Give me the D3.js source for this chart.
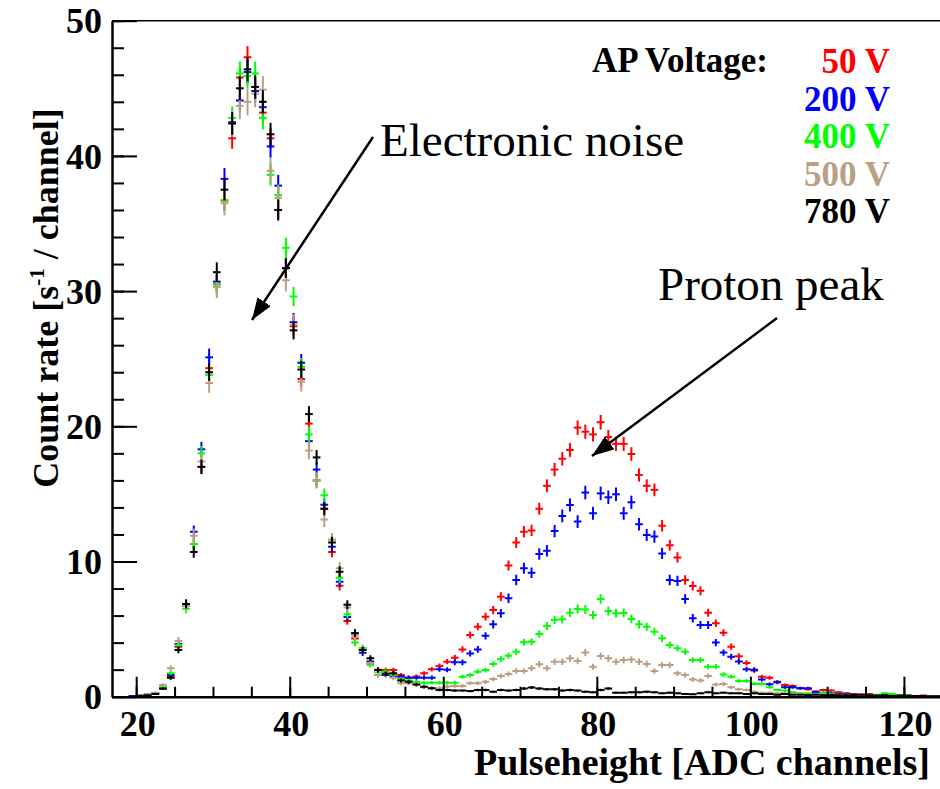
<!doctype html>
<html lang="en">
<head>
  <meta charset="utf-8">
  <title>Pulseheight spectra</title>
  <style>
    body { margin: 0; background: #fff; }
    svg { display: block; background: #fff; }
    .tick text { font-family: "Liberation Serif", "Times New Roman", serif; font-weight: bold; font-size: 36px; fill: #000; }
    .bold { font-family: "Liberation Serif", "Times New Roman", serif; font-weight: bold; }
    .note { font-family: "Liberation Serif", "Times New Roman", serif; font-size: 47px; }
  </style>
</head>
<body>
  <div id="chart"></div>
  <script src="https://cdnjs.cloudflare.com/ajax/libs/d3/7.8.5/d3.min.js"></script>
  <script>
// channels 17 .. 124, one value per ADC channel (bin width 1)
var channels = d3.range(17, 125);

var rate50 = [
  0, 0, 0, 0.05, 0.15, 0.25, 0.62, 1.5, 3.7, 6.7,
  11.3, 17.0, 24.3, 30.5, 36.7, 41.3, 45.8, 47.3, 45.1, 43.2,
  41.3, 36.0, 31.7, 27.4, 23.5, 20.2, 16.0, 13.9, 10.7, 8.2,
  5.6, 4.3, 3.5, 2.5, 2.0, 1.97, 1.97, 1.6, 1.41, 1.5,
  1.73, 2.03, 2.27, 2.59, 2.89, 3.5, 4.56, 5.18, 5.92, 6.41,
  7.4, 9.7, 11.4, 12.2, 12.3, 13.9, 15.6, 16.8, 17.6, 18.25,
  19.9, 19.6, 19.4, 20.3, 19.2, 18.7, 18.7, 17.95, 16.4, 15.6,
  15.3, 12.65, 11.2, 10.3, 8.63, 8.19, 7.84, 6.21, 5.43, 4.73,
  3.7, 3.0, 2.5, 1.93, 1.48, 1.4, 1.1, 0.86, 0.79, 0.62,
  0.55, 0.37, 0.5, 0.45, 0.32, 0.25, 0.2, 0.15, 0.2, 0.1,
  0.12, 0.1, 0.08, 0.1, 0.05, 0.08, 0.05, 0.05
];
var rate200 = [
  0, 0, 0.05, 0.1, 0.15, 0.25, 0.6, 1.6, 3.9, 6.8,
  12.2, 18.3, 25.1, 30.7, 38.3, 42.5, 44.1, 46.2, 44.8, 43.6,
  40.7, 37.8, 31.7, 27.7, 24.7, 18.9, 16.8, 14.2, 11.1, 8.5,
  5.9, 4.7, 3.25, 2.6, 1.6, 1.6, 1.5, 1.48, 1.41, 1.4,
  1.41, 1.41, 2.03, 2.0, 2.54, 2.54, 3.2, 3.5, 4.5, 5.35,
  6.17, 7.28, 8.63, 9.5, 9.17, 10.55, 10.8, 12.25, 13.37, 14.18,
  12.95, 15.1, 13.56, 15.04, 14.75, 14.97, 13.56, 14.38, 12.75, 11.96,
  11.84, 10.6, 8.63, 8.56, 7.23, 5.8, 5.3, 5.3, 4.0, 3.26,
  2.96, 2.6, 2.03, 2.0, 1.28, 0.92, 1.06, 0.7, 0.7, 0.63,
  0.63, 0.37, 0.3, 0.25, 0.2, 0.2, 0.15, 0.15, 0.1, 0.1,
  0.1, 0.08, 0.05, 0.08, 0.05, 0.05, 0.03, 0.03
];
var rate400 = [
  0, 0, 0, 0.05, 0.15, 0.25, 0.7, 1.73, 3.82, 6.5,
  11.3, 18.0, 23.8, 30.5, 36.7, 42.8, 46.1, 45.9, 46.1, 42.8,
  38.6, 37.1, 33.2, 29.6, 24.4, 19.4, 16.0, 14.9, 11.6, 8.8,
  6.1, 4.0, 3.6, 2.35, 1.8, 1.85, 1.6, 1.3, 1.2, 1.1,
  1.04, 1.04, 1.04, 1.04, 1.04, 1.48, 1.6, 1.85, 1.97, 2.42,
  2.77, 3.03, 3.33, 4.02, 4.07, 4.64, 5.23, 5.67, 5.72, 6.21,
  6.49, 6.45, 6.04, 7.23, 6.34, 6.17, 6.2, 5.75, 5.35, 5.18,
  4.81, 4.32, 3.82, 3.58, 3.33, 2.71, 2.71, 2.22, 2.22, 1.65,
  1.48, 1.16, 1.16, 0.94, 0.94, 0.7, 0.5, 0.45, 0.32, 0.25,
  0.25, 0.2, 0.3, 0.2, 0.15, 0.15, 0.1, 0.1, 0.12, 0.15,
  0.25, 0.2, 0.1, 0.08, 0.05, 0.05, 0.05, 0.03
];
var rate500 = [
  0, 0, 0, 0.1, 0.18, 0.3, 0.86, 2.1, 4.12, 6.7,
  11.9, 17.4, 23.2, 30.3, 36.5, 42.4, 43.7, 44.0, 44.6, 44.9,
  38.9, 36.9, 30.8, 27.5, 23.3, 18.2, 16.0, 13.1, 11.6, 9.5,
  6.6, 4.5, 3.5, 2.5, 1.6, 1.68, 1.4, 0.99, 0.99, 0.9,
  0.69, 0.63, 0.63, 0.75, 0.8, 0.8, 0.99, 0.99, 1.1, 1.31,
  1.53, 1.68, 1.9, 1.9, 2.1, 2.4, 2.1, 2.59, 2.59, 2.84,
  2.64, 3.26, 2.22, 3.01, 2.84, 2.59, 2.71, 2.75, 2.59, 2.42,
  1.9, 2.34, 2.34, 1.73, 1.6, 1.28, 1.2, 1.53, 0.9, 0.94,
  0.7, 0.55, 0.5, 0.37, 0.3, 0.3, 0.25, 0.25, 0.2, 0.2,
  0.15, 0.2, 0.15, 0.12, 0.1, 0.1, 0.1, 0.08, 0.08, 0.05,
  0.05, 0.05, 0.05, 0.03, 0.03, 0.03, 0.02, 0.02
];
var rate780 = [
  0, 0, 0, 0.05, 0.1, 0.2, 0.6, 1.41, 3.45, 6.86,
  10.7, 17.0, 24.0, 31.4, 37.5, 42.4, 45.0, 46.4, 45.1, 44.0,
  41.6, 36.0, 31.7, 27.1, 24.2, 20.9, 17.7, 13.9, 11.4, 9.25,
  6.8, 4.7, 3.45, 2.84, 1.97, 1.7, 1.73, 1.2, 1.1, 0.9,
  0.74, 0.63, 0.5, 0.5, 0.45, 0.45, 0.42, 0.5, 0.5, 0.37,
  0.5, 0.45, 0.5, 0.6, 0.68, 0.6, 0.55, 0.55, 0.45, 0.5,
  0.45, 0.37, 0.32, 0.5, 0.6, 0.3, 0.3, 0.32, 0.32, 0.37,
  0.32, 0.25, 0.3, 0.25, 0.2, 0.18, 0.25, 0.32, 0.25, 0.3,
  0.25, 0.25, 0.2, 0.25, 0.2, 0.2, 0.15, 0.2, 0.15, 0.15,
  0.12, 0.15, 0.1, 0.12, 0.1, 0.1, 0.12, 0.15, 0.1, 0.08,
  0.1, 0.05, 0.08, 0.05, 0.05, 0.05, 0.03, 0.03
];

var voltageLabels = ["50 V", "200 V", "400 V", "500 V", "780 V"];
var voltageColors = ["#ff0000", "#0000ff", "#00ff00", "#bb9f82", "#000000"];
// statistical error ~ k * sqrt(rate), k depends on measuring time
var errScale = [0.12, 0.13, 0.13, 0.15, 0.13];
var allRates = [rate50, rate200, rate400, rate500, rate780];

var xMajor = [20, 40, 60, 80, 100, 120];
var xMinor = d3.range(20, 125, 5);
var yMajor = [0, 10, 20, 30, 40, 50];
var yMinor = d3.range(0, 51, 2);

(function() {
  var width = 940, height = 789;
  var left = 112, right = 940, top = 20.7, bottom = 696.7;

  var svg = d3.select("#chart").append("svg")
      .attr("width", width)
      .attr("height", height);

  var x = d3.scaleLinear().domain([16.85, 124.7]).range([left, right]);
  var y = d3.scaleLinear().domain([0, 50]).range([bottom, top]);

  var clip = svg.append("clipPath").attr("id", "plotclip")
    .append("rect").attr("x", left).attr("y", 0).attr("width", right - left).attr("height", bottom);

  // data points with error bars, red drawn first, black last
  var plot = svg.append("g").attr("clip-path", "url(#plotclip)");
  allRates.forEach(function(rates, s) {
    var pts = channels.map(function(c, i) {
      return { c: c, v: rates[i], e: errScale[s] * Math.sqrt(rates[i]) };
    }).filter(function(d) { return d.v > 0; });

    var g = plot.append("g")
      .attr("stroke", voltageColors[s])
      .attr("stroke-width", 2);

    g.selectAll("line.h").data(pts).enter().append("line")
      .attr("class", "h")
      .attr("x1", function(d) { return x(d.c); })
      .attr("x2", function(d) { return x(d.c + 1); })
      .attr("y1", function(d) { return y(d.v); })
      .attr("y2", function(d) { return y(d.v); });

    g.selectAll("line.v").data(pts).enter().append("line")
      .attr("class", "v")
      .attr("x1", function(d) { return x(d.c + 0.5); })
      .attr("x2", function(d) { return x(d.c + 0.5); })
      .attr("y1", function(d) { return y(d.v - d.e); })
      .attr("y2", function(d) { return y(d.v + d.e); });
  });

  // top frame
  svg.append("line")
    .attr("x1", left).attr("x2", right).attr("y1", top).attr("y2", top)
    .attr("stroke", "#000").attr("stroke-width", 1.5);

  // x axis: minor ticks then major ticks with labels, ticks pointing inward
  svg.append("g")
    .attr("transform", "translate(0," + bottom + ")")
    .call(d3.axisBottom(x).tickValues(xMinor).tickSize(-10).tickSizeOuter(0).tickFormat(""))
    .call(function(g) { g.select(".domain").remove(); })
    .selectAll("line").attr("stroke-width", 2);

  var xa = svg.append("g")
    .attr("transform", "translate(0," + bottom + ")")
    .call(d3.axisBottom(x).tickValues(xMajor).tickSize(-20).tickSizeOuter(0).tickPadding(14));
  xa.select(".domain").attr("stroke-width", 2.5);
  xa.selectAll("line").attr("stroke-width", 2);
  xa.selectAll("text").attr("dx", 1);

  // y axis
  svg.append("g")
    .attr("transform", "translate(" + left + ",0)")
    .call(d3.axisLeft(y).tickValues(yMinor).tickSize(-12).tickSizeOuter(0).tickFormat(""))
    .call(function(g) { g.select(".domain").remove(); })
    .selectAll("line").attr("stroke-width", 2);

  var ya = svg.append("g")
    .attr("transform", "translate(" + left + ",0)")
    .call(d3.axisLeft(y).tickValues(yMajor).tickSize(-25).tickSizeOuter(0).tickPadding(10));
  ya.select(".domain").attr("stroke-width", 2.5);
  ya.selectAll("line").attr("stroke-width", 2);
  ya.selectAll("text").attr("dy", "0.34em");

  // axis titles
  svg.append("text")
    .attr("class", "bold")
    .attr("x", 930).attr("y", 775)
    .attr("text-anchor", "end")
    .attr("font-size", 38)
    .text("Pulseheight [ADC channels]");

  var yt = svg.append("text")
    .attr("class", "bold")
    .attr("transform", "translate(58,298) rotate(-90)")
    .attr("text-anchor", "middle")
    .attr("font-size", 36);
  yt.append("tspan").text("Count rate [s");
  yt.append("tspan").attr("dy", -14).attr("font-size", 21).text("-1");
  yt.append("tspan").attr("dy", 14).text(" / channel]");

  // legend
  svg.append("text")
    .attr("class", "bold")
    .attr("x", 768).attr("y", 72)
    .attr("text-anchor", "end")
    .attr("font-size", 35)
    .text("AP Voltage:");

  svg.selectAll("text.leg").data(voltageLabels).enter().append("text")
    .attr("class", "bold leg")
    .attr("x", 890)
    .attr("y", function(d, i) { return 73 + i * 37.5; })
    .attr("text-anchor", "end")
    .attr("font-size", 35)
    .attr("fill", function(d, i) { return voltageColors[i]; })
    .text(function(d) { return d; });

  // annotations with arrows
  var defs = svg.append("defs");
  defs.append("marker")
    .attr("id", "arrowhead")
    .attr("viewBox", "0 0 10 10")
    .attr("refX", 10).attr("refY", 5)
    .attr("markerWidth", 10).attr("markerHeight", 10)
    .attr("markerUnits", "userSpaceOnUse")
    .attr("orient", "auto")
    .append("path").attr("d", "M0,0 L10,5 L0,10 z").attr("fill", "#000");
  defs.select("marker").attr("markerWidth", 22).attr("markerHeight", 16)
    .attr("viewBox", "0 0 22 16").attr("refX", 22).attr("refY", 8)
    .select("path").attr("d", "M0,0 L22,8 L0,16 z");

  svg.append("text").attr("class", "note")
    .attr("x", 380).attr("y", 156)
    .text("Electronic noise");
  svg.append("line")
    .attr("x1", 373).attr("y1", 137).attr("x2", 252).attr("y2", 320)
    .attr("stroke", "#000").attr("stroke-width", 2.5)
    .attr("marker-end", "url(#arrowhead)");

  svg.append("text").attr("class", "note")
    .attr("x", 658).attr("y", 300)
    .text("Proton peak");
  svg.append("line")
    .attr("x1", 777).attr("y1", 318).attr("x2", 592).attr("y2", 456)
    .attr("stroke", "#000").attr("stroke-width", 2.5)
    .attr("marker-end", "url(#arrowhead)");
})();
  </script>
</body>
</html>
